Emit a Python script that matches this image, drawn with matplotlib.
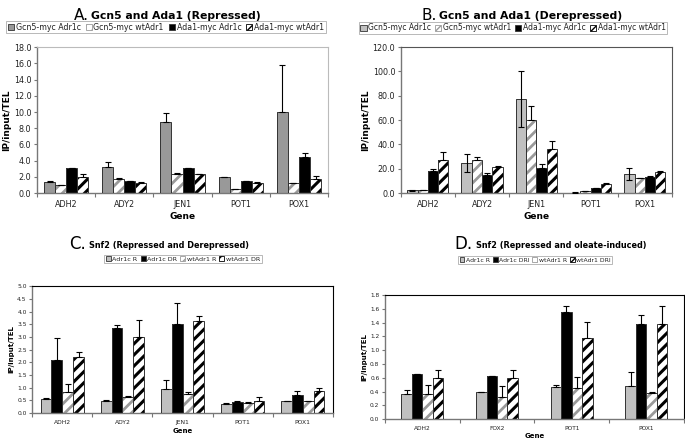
import matplotlib.pyplot as plt
import numpy as np
from matplotlib.patches import Patch

# panel A / B: Gcn5 and Ada1
genes_ab = ["ADH2", "ADY2", "JEN1", "POT1", "POX1"]
labels_ab = ["Gcn5-myc Adr1c", "Gcn5-myc wtAdr1", "Ada1-myc Adr1c", "Ada1-myc wtAdr1"]

rep_vals = [
    [1.4, 3.2, 8.8, 2.0, 10.0],
    [1.0, 1.7, 2.3, 0.5, 1.2],
    [3.1, 1.5, 3.1, 1.5, 4.5],
    [2.0, 1.3, 2.3, 1.2, 1.8],
]
rep_err = [
    [0.05, 0.6, 1.1, 0.0, 5.8],
    [0.05, 0.2, 0.2, 0.05, 0.1],
    [0.05, 0.05, 0.05, 0.05, 0.4],
    [0.3, 0.1, 0.05, 0.15, 0.3],
]

derep_vals = [
    [2.2, 25.0, 77.0, 0.5, 16.0],
    [2.5, 27.0, 60.0, 1.4, 12.6],
    [18.0, 14.8, 21.0, 4.2, 12.9],
    [27.0, 21.2, 36.0, 7.4, 17.6],
]
derep_err = [
    [0.5, 7.5, 23.0, 0.1, 5.0],
    [0.2, 3.0, 12.0, 0.2, 0.2],
    [1.6, 1.4, 3.0, 0.3, 1.4],
    [7.0, 1.1, 7.0, 0.6, 0.3],
]

# panel C: Snf2 repressed / derepressed
genes_c = ["ADH2", "ADY2", "JEN1", "POT1", "POX1"]
labels_c = ["Adr1c R", "Adr1c DR", "wtAdr1 R", "wtAdr1 DR"]
snf2_dr_vals = [
    [0.57, 0.47, 0.93, 0.36, 0.46],
    [2.08, 3.34, 3.50, 0.42, 0.71],
    [0.82, 0.63, 0.75, 0.41, 0.47],
    [2.22, 3.00, 3.63, 0.49, 0.86],
]
snf2_dr_err = [
    [0.02, 0.05, 0.35, 0.02, 0.01],
    [0.87, 0.14, 0.85, 0.05, 0.14],
    [0.33, 0.03, 0.08, 0.01, 0.01],
    [0.20, 0.65, 0.20, 0.14, 0.14],
]

# panel D: Snf2 repressed / oleate-induced
genes_d = ["ADH2", "FOX2", "POT1", "POX1"]
labels_d = ["Adr1c R", "Adr1c DRI", "wtAdr1 R", "wtAdr1 DRI"]
snf2_ol_vals = [
    [0.37, 0.39, 0.46, 0.48],
    [0.65, 0.63, 1.55, 1.38],
    [0.37, 0.32, 0.45, 0.38],
    [0.60, 0.60, 1.18, 1.38],
]
snf2_ol_err = [
    [0.05, 0.0, 0.04, 0.21],
    [0.01, 0.0, 0.09, 0.13],
    [0.12, 0.16, 0.16, 0.01],
    [0.12, 0.11, 0.23, 0.26],
]

# bar styles: (face, hatch, hatch colour, hatch width)
GREY = ("#999999", None, None, 0)
LGREY = ("#c0c0c0", None, None, 0)
GHATCH = ("white", "///", "#9a9a9a", 2.0)
BLACK = ("black", None, None, 0)
BHATCH = ("white", "///", "black", 2.2)

fig = plt.figure(figsize=(6.85, 4.45), dpi=100)


def hatched(patches, lw):
    for p in patches:
        if hasattr(p, "set_hatch_linewidth"):
            p.set_hatch_linewidth(lw)


def panel(rect, genes, vals, errs, styles, ymax, ystep, fs, both=(), frame="black", width=0.19):
    ax = fig.add_axes(rect)
    n = len(genes)
    x = np.arange(n)
    nser = len(vals)
    for i, (v, e, st) in enumerate(zip(vals, errs, styles)):
        pos = x + (i - (nser - 1) / 2) * width
        face, hatch, hcol, hlw = st
        if hatch:
            with plt.rc_context({"hatch.linewidth": hlw}):
                bb = ax.bar(pos, v, width, color=face, edgecolor=hcol, hatch=hatch, linewidth=0, zorder=2)
            hatched(bb, hlw)
        else:
            ax.bar(pos, v, width, color=face, linewidth=0, zorder=2)
        ax.bar(pos, v, width, fill=False, edgecolor="#333333", linewidth=0.7, zorder=3)
        lower = e if i in both else [0] * n
        ax.errorbar(pos, v, yerr=[lower, e], fmt="none", ecolor="black",
                    elinewidth=0.8, capsize=2.2, capthick=0.8, zorder=4)
    ticks = np.arange(0, ymax + ystep / 2, ystep)
    ax.set_xlim(-0.5, n - 0.5)
    ax.set_ylim(0, ymax)
    ax.set_yticks(ticks)
    ax.set_yticklabels(["%.1f" % t for t in ticks], fontsize=fs, color="#222222")
    ax.set_xticks(np.arange(n + 1) - 0.5)
    ax.set_xticklabels([])
    ax.set_xticks(x, minor=True)
    ax.set_xticklabels(genes, minor=True, fontsize=fs, color="#222222")
    ax.tick_params(axis="x", which="major", length=3, color="#777777")
    ax.tick_params(axis="x", which="minor", length=0, pad=5)
    ax.tick_params(axis="y", length=2.5, color="#777777", pad=1.5)
    for s in ["top", "right"]:
        ax.spines[s].set_color(frame)
        ax.spines[s].set_linewidth(0.8)
    for s in ["left", "bottom"]:
        ax.spines[s].set_color("#777777")
        ax.spines[s].set_linewidth(1.0)
    return ax


def legend(labels, styles, center, fs, colsp=0.5):
    hs = []
    for st in styles:
        with plt.rc_context({"hatch.linewidth": 1.0}):
            p = Patch(facecolor=st[0], edgecolor=st[2] or "#333333", hatch=st[1], linewidth=0.6)
        hatched([p], 1.0)
        hs.append(p)
    lg = fig.legend(hs, labels, loc="center", bbox_to_anchor=center, ncol=4, fontsize=fs,
                    handlelength=0.8, handleheight=0.8, handletextpad=0.2, columnspacing=colsp,
                    borderpad=0.25, fancybox=False, frameon=True, edgecolor="#999999")
    lg.get_frame().set_linewidth(0.6)
    for t in lg.get_texts():
        t.set_color("#222222")


def labels(ax, fs, pad_y=2, pad_x=2):
    ax.set_ylabel("IP/input/TEL", fontsize=fs, fontweight="bold", labelpad=pad_y)
    ax.set_xlabel("Gene", fontsize=fs, fontweight="bold", labelpad=pad_x)


# A
axA = panel([0.054, 0.566, 0.425, 0.328], genes_ab, rep_vals, rep_err,
            [GREY, GHATCH, BLACK, BHATCH], 18, 2, 5.8, frame="#bbbbbb")
labels(axA, 6.5)
legend(labels_ab, [GREY, GHATCH, BLACK, BHATCH], (166 / 685, 1 - 27 / 445), 5.7, 0.6)
fig.text(89 / 685, 1 - 16 / 445, "A.", fontsize=11, ha="right", va="center")
fig.text(91 / 685, 1 - 16 / 445, "Gcn5 and Ada1 (Repressed)", fontsize=7.8, fontweight="bold", va="center")

# B
axB = panel([0.585, 0.566, 0.396, 0.328], genes_ab, derep_vals, derep_err,
            [LGREY, GHATCH, BLACK, BHATCH], 120, 20, 5.8, both=(0,), frame="#555555")
labels(axB, 6.5)
legend(labels_ab, [LGREY, GHATCH, BLACK, BHATCH], (513 / 685, 1 - 28 / 445), 5.5, 0.55)
fig.text(437 / 685, 1 - 16 / 445, "B.", fontsize=11, ha="right", va="center")
fig.text(439 / 685, 1 - 16 / 445, "Gcn5 and Ada1 (Derepressed)", fontsize=7.8, fontweight="bold", va="center")

# C
axC = panel([0.047, 0.072, 0.439, 0.285], genes_c, snf2_dr_vals, snf2_dr_err,
            [LGREY, BLACK, GHATCH, BHATCH], 5, 0.5, 4.3, frame="black", width=0.18)
labels(axC, 5)
legend(labels_c, [LGREY, BLACK, GHATCH, BHATCH], (183 / 685, 1 - 259 / 445), 4.6)
fig.text(86 / 685, 1 - 244 / 445, "C.", fontsize=12, ha="right", va="center")
fig.text(89 / 685, 1 - 245 / 445, "Snf2 (Repressed and Derepressed)", fontsize=5.9, fontweight="bold", va="center")

# D
axD = panel([0.562, 0.058, 0.436, 0.279], genes_d, snf2_ol_vals, snf2_ol_err,
            [LGREY, BLACK, GHATCH, BHATCH], 1.8, 0.2, 4.2, frame="black", width=0.14)
labels(axD, 5, pad_x=1)
legend(labels_d, [LGREY, BLACK, GHATCH, BHATCH], (535 / 685, 1 - 260 / 445), 4.4)
fig.text(472 / 685, 1 - 244 / 445, "D.", fontsize=12, ha="right", va="center")
fig.text(476 / 685, 1 - 245 / 445, "Snf2 (Repressed and oleate-induced)", fontsize=5.9, fontweight="bold", va="center")

fig.savefig("out.png", dpi=100)
